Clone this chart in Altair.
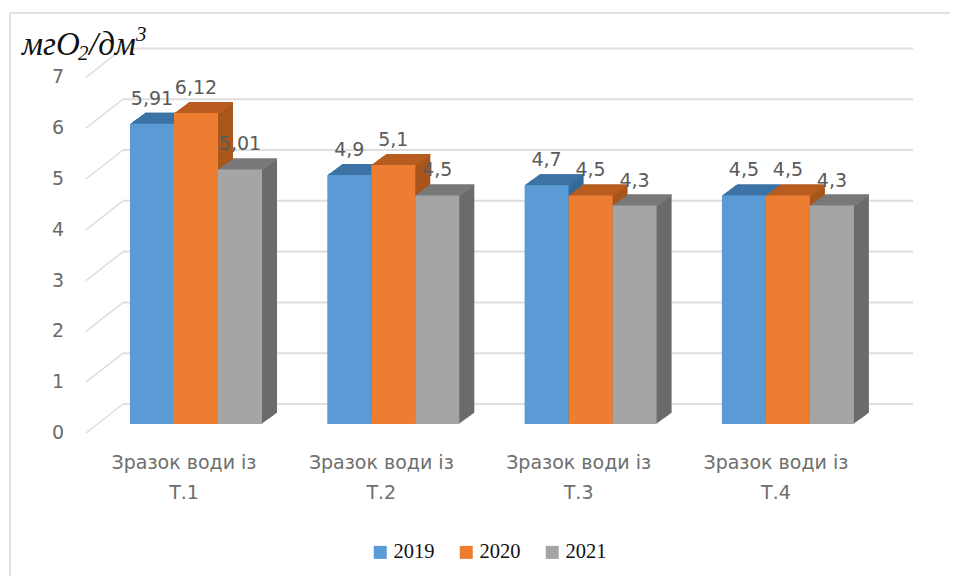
import altair as alt
import pandas as pd

categories = ["Зразок води із\nТ.1", "Зразок води із\nТ.2", "Зразок води із\nТ.3", "Зразок води із\nТ.4"]
years = ["2019", "2020", "2021"]
values_2019 = [5.91, 4.9, 4.7, 4.5]
values_2020 = [6.12, 5.1, 4.5, 4.5]
values_2021 = [5.01, 4.5, 4.3, 4.3]
axis_ticks = [0, 1, 2, 3, 4, 5, 6, 7]

front_colors = ["#5B9BD5", "#ED7D31", "#A5A5A5"]
top_colors = ["#3F76A8", "#BC5F20", "#7C7C7C"]
side_colors = ["#356A99", "#A8561C", "#6B6B6B"]

W, H = 942, 568
PX = 50.8                      # pixels per unit of the value axis
ZERO_Y = 416                   # pixel row of the value 0 on the bars' front plane
DEPTH_X, DEPTH_Y = 15, 11
WALL_DY = 20
STEP = 197.3                   # pixels per category
BAR = 44 / STEP                # bar width in category units
FIRST = 122                    # left edge of the first bar, pixels

y_scale = alt.Scale(domain=[(ZERO_Y - H) / PX, ZERO_Y / PX], range=[H, 0], nice=False, zero=False)
x_scale = alt.Scale(domain=[-FIRST / STEP, (W - FIRST) / STEP], range=[0, W], nice=False, zero=False)
X = alt.X("pos:Q", scale=x_scale, axis=None)
Y = alt.Y("value:Q", scale=y_scale, axis=None)

rows = []
for g, (cat, a, b, c) in enumerate(zip(categories, values_2019, values_2020, values_2021)):
    for s, (yr, v) in enumerate(zip(years, (a, b, c))):
        rows.append({"cat": cat, "year": yr, "value": v, "label": str(v).replace(".", ","),
                     "pos": g + s * BAR})
bars = pd.DataFrame(rows)
bars["pos2"] = bars["pos"] + BAR
bars["mid"] = bars["pos"] + BAR / 2
bars["zero"] = 0.0
bars["strip"] = bars["value"] - 1.5 / PX
ticks = pd.DataFrame({"v": axis_ticks})
ticks["lo"] = ticks["v"] - 9 / PX
ticks["hi"] = ticks["v"] + WALL_DY / PX
cat_df = pd.DataFrame({"cat": categories, "mid": [i + 1.5 * BAR for i in range(len(categories))]})

layers = []
GRID = "#DEDEDE"

# frame
layers.append(alt.Chart(pd.DataFrame({"a": [0]})).mark_rule(color="#E2E2E2", strokeWidth=2).encode(
    x=alt.value(2), x2=alt.value(W), y=alt.value(5)))
layers.append(alt.Chart(pd.DataFrame({"a": [0]})).mark_rule(color="#E2E2E2", strokeWidth=2).encode(
    x=alt.value(2), y=alt.value(5), y2=alt.value(H)))

# back-wall gridlines and the slanted side-wall lines
layers.append(alt.Chart(ticks).mark_rule(color=GRID, strokeWidth=2, yOffset=-WALL_DY).encode(
    x=alt.value(115), x2=alt.value(905), y=alt.Y("v:Q", scale=y_scale, axis=None)))
layers.append(alt.Chart(ticks).mark_rule(color=GRID, strokeWidth=1.5).encode(
    x=alt.value(78), x2=alt.value(115),
    y=alt.Y("lo:Q", scale=y_scale, axis=None), y2="hi:Q"))
layers.append(alt.Chart(ticks).mark_text(font="DejaVu Sans", fontSize=19, color="#6A6A6A", align="center", baseline="middle", dy=9).encode(
    x=alt.value(50), y=alt.Y("v:Q", scale=y_scale, axis=None), text="v:Q"))

# the bars, left to right, each extruded backwards
base = alt.Chart(bars)
for i, yr in enumerate(years):
    sel = base.transform_filter(alt.datum.year == yr)
    for k in range(DEPTH_X, 0, -1):
        ox, oy = k, -k * DEPTH_Y / DEPTH_X
        off = dict(xOffset=ox, x2Offset=ox, yOffset=oy, y2Offset=oy)
        layers.append(sel.mark_bar(color=side_colors[i], **off).encode(x=X, x2="pos2:Q", y=Y, y2="zero:Q"))
        layers.append(sel.mark_bar(color=top_colors[i], **off).encode(x=X, x2="pos2:Q", y=Y, y2="strip:Q"))
    layers.append(sel.mark_bar().encode(
        x=X, x2="pos2:Q", y=Y, y2="zero:Q",
        color=alt.Color("year:N", scale=alt.Scale(domain=years, range=front_colors), legend=alt.Legend(
            title=None, orient="none", legendX=362, legendY=534, direction="horizontal",
            symbolType="square", symbolSize=169, symbolStrokeWidth=0, labelFont="Liberation Serif",
            labelFontSize=20.5, labelColor="#111111", labelOffset=3, columnPadding=21, padding=0)),
    ))

# value labels
layers.append(base.mark_text(font="DejaVu Sans", fontSize=19, color="#5A5A5A", align="center", baseline="middle", dy=-25).encode(
    x=alt.X("mid:Q", scale=x_scale, axis=None), y=Y, text="label:N"))

# category labels
layers.append(alt.Chart(cat_df).mark_text(
    font="DejaVu Sans", fontSize=19, color="#6E6E6E", align="center", baseline="middle",
    lineBreak="\n", lineHeight=30, dx=-12).encode(x=alt.X("mid:Q", scale=x_scale, axis=None), y=alt.value(455), text="cat:N"))

# unit caption
def cap(text, x, y, size):
    return alt.Chart(pd.DataFrame({"t": [text]})).mark_text(
        font="Liberation Serif", fontStyle="italic", fontSize=size, color="#111111", align="left", baseline="alphabetic"
    ).encode(x=alt.value(x), y=alt.value(y), text="t:N")

layers += [cap("мгО", 14, 47, 33), cap("2", 70, 52, 21), cap("/дм", 81, 47, 33), cap("3", 128, 33, 21)]

chart = alt.layer(*layers).properties(
    width=W, height=H, autosize=alt.AutoSizeParams(type="none"), padding=0
).configure_view(stroke=None)

chart.save("out.html", embed_options={"renderer": "svg", "actions": False})
